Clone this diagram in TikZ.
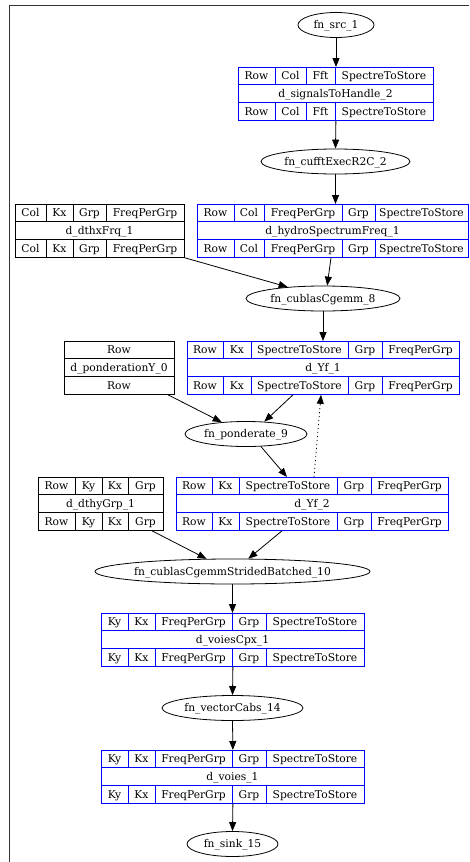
\documentclass[tikz,border=0pt]{standalone}
\usepackage{fontspec}
\setmainfont{DejaVu Serif}
\usetikzlibrary{shapes.geometric,arrows.meta,calc}
\tikzset{
  txt/.style={inner sep=0pt, font=\fontsize{10.7}{12}\selectfont, text height=7.8pt, text depth=0pt},
  tabbox/.style={inner sep=0pt, minimum height=53pt, line width=0.8pt},
  tabline/.style={line width=0.8pt},
  fnell/.style={ellipse, draw, line width=0.8pt, minimum height=25pt, inner sep=0pt},
  arr/.style={-{Triangle[length=9pt,width=7pt]}, line width=0.8pt},
  dots/.style={dash pattern=on 1.2pt off 2.8pt},
  frame/.style={line width=1pt, black!80}
}
% table: name, colour, x0, y0, x1, title, cells a/b/text
\newcommand\dtab[7]{%
  \node[tabbox, draw=#2, anchor=north west, minimum width={(#5-#3)*1pt}] (#1) at (#3,#4) {};
  \draw[#2, tabline] (#3,{#4+17.67}) -- (#5,{#4+17.67}) (#3,{#4+35.33}) -- (#5,{#4+35.33});
  \node[txt] (#1-name) at ({(#3+#5)/2},{#4+26.5}) {#6};
  \foreach \a/\b/\t [count=\i] in {#7} {
    \draw[#2, tabline] (\a,#4) -- (\a,{#4+17.67}) (\a,{#4+35.33}) -- (\a,{#4+53});
    \node[txt] (#1-u\i) at ({(\a+\b)/2},{#4+8.83}) {\t};
    \node[txt] (#1-l\i) at ({(\a+\b)/2},{#4+44.17}) {\t};
  }
}
% function ellipse: name, x, y, width, text
\newcommand\fnode[5]{%
  \node[fnell, minimum width=#4pt] (#1) at (#2,#3) {};
  \node[txt] (#1-t) at (#1.center) {#5};
}
\begin{document}
\begin{tikzpicture}[x=1pt,y=-1pt]
\useasboundingbox (0,0) rectangle (469,862);
\draw[frame] (9,862) -- (9,5) -- (469,5);

\fnode{src}{336}{25}{76}{fn\_src\_1}
\fnode{cufft}{335.5}{161.5}{149}{fn\_cufftExecR2C\_2}
\fnode{cgemm}{323}{298.5}{154}{fn\_cublasCgemm\_8}
\fnode{pond}{246}{434}{122}{fn\_ponderate\_9}
\fnode{strided}{232.5}{571.5}{275}{fn\_cublasCgemmStridedBatched\_10}
\fnode{vcabs}{232.5}{708}{141}{fn\_vectorCabs\_14}
\fnode{sink}{232.5}{844}{91}{fn\_sink\_15}

\dtab{sig}{blue}{238}{67}{433}{d\_signalsToHandle\_2}{238/275/Row, 275/306/Col, 306/335/Fft, 335/433/SpectreToStore}
\dtab{hyd}{blue}{197}{204}{468}{d\_hydroSpectrumFreq\_1}{197/234/Row, 234/264/Col, 264/342/FreqPerGrp, 342/375/Grp, 375/468/SpectreToStore}
\dtab{dthx}{black}{15}{204}{184}{d\_dthxFrq\_1}{15/46/Col, 46/73/Kx, 73/106/Grp, 106/184/FreqPerGrp}
\dtab{pondy}{black}{64}{341}{174}{d\_ponderationY\_0}{64/174/Row}
\dtab{yf1}{blue}{187}{341}{459}{d\_Yf\_1}{187/223/Row, 223/251/Kx, 251/348/SpectreToStore, 348/382/Grp, 382/459/FreqPerGrp}
\dtab{dthy}{black}{38}{477}{163}{d\_dthyGrp\_1}{38/75/Row, 75/102/Ky, 102/128/Kx, 128/163/Grp}
\dtab{yf2}{blue}{176}{477}{448}{d\_Yf\_2}{176/212/Row, 212/239/Kx, 239/337/SpectreToStore, 337/371/Grp, 371/448/FreqPerGrp}
\dtab{vcpx}{blue}{101}{613}{364}{d\_voiesCpx\_1}{101/128/Ky, 128/155/Kx, 155/232/FreqPerGrp, 232/266/Grp, 266/364/SpectreToStore}
\dtab{voies}{blue}{101}{750}{364}{d\_voies\_1}{101/128/Ky, 128/155/Kx, 155/232/FreqPerGrp, 232/266/Grp, 266/364/SpectreToStore}

\draw[arr] (src.south) -- (src.south |- sig.north);
\draw[arr] (sig.south) -- (cufft.north);
\draw[arr] (cufft.south) -- (cufft.south |- hyd.north);
\draw[arr] (dthx.south east) -- (cgemm.162);
\draw[arr] ($(hyd.south west)+(134,0)$) -- (cgemm.72);
\draw[arr] (cgemm.south) -- (cgemm.south |- yf1.north);
\draw[arr] ($(pondy.south west)+(104,0)$) -- (pond.154);
\draw[arr] ($(yf1.south west)+(106,0)$) -- (pond.34);
\draw[arr] (pond.320) -- ($(yf2.north west)+(111,0)$);
\draw[arr, dots] ($(yf2.north west)+(138,0)$) -- ($(yf1.south west)+(134,0)$);
\draw[arr] ($(dthy.south west)+(114,0)$) -- (strided.154);
\draw[arr] ($(yf2.south west)+(106,0)$) -- (strided.39);
\draw[arr] (strided.south) -- (strided.south |- vcpx.north);
\draw[arr] (vcpx.south) -- (vcabs.north);
\draw[arr] (vcabs.south) -- (voies.north);
\draw[arr] (voies.south) -- (sink.north);
\end{tikzpicture}
\end{document}
